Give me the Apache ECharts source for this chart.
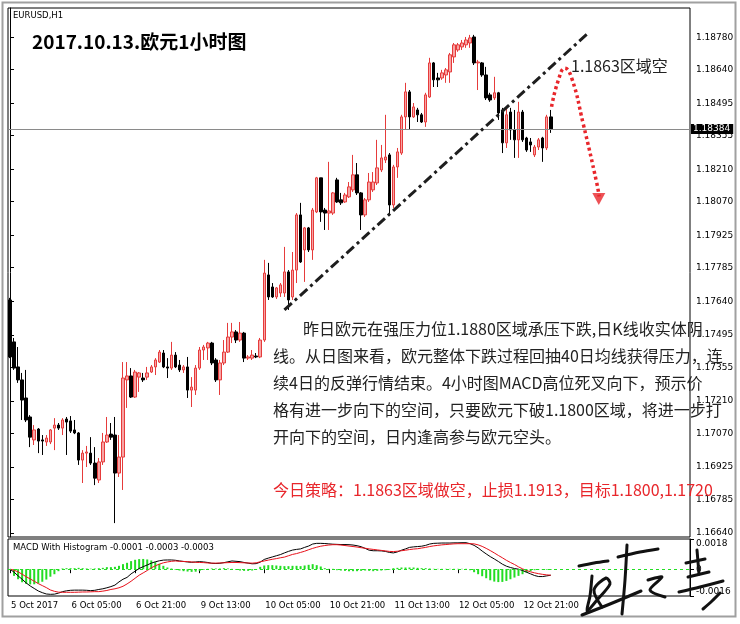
<!DOCTYPE html>
<html><head><meta charset="utf-8">
<script src="https://cdn.jsdelivr.net/npm/echarts@6/dist/echarts.min.js"></script>
<style>html,body{margin:0;padding:0;background:#fff}#c{width:740px;height:624px}</style>
</head><body><div id="c"></div>
<script>
// ---------- DATA ----------
const openP = [
1.17646,1.17465,1.17357,1.17301,1.17223,1.17141,1.17042,1.17089,1.17042,1.17033,
1.17033,1.17093,1.17106,1.17093,1.17132,1.17124,1.17085,1.17072,1.16955,1.16985,
1.16985,1.16942,1.16869,1.16947,1.17033,1.17067,1.17063,1.16899,1.16968,1.17301,
1.17318,1.17227,1.17313,1.17309,1.17313,1.17335,1.17357,1.17378,1.17417,1.17357,
1.17352,1.17408,1.17365,1.17344,1.17357,1.17257,1.17257,1.17352,1.17430,1.17439,
1.17460,1.17387,1.17301,1.17374,1.17421,1.17486,1.17508,1.17473,1.17503,1.17395,
1.17395,1.17404,1.17400,1.17473,1.17754,1.17702,1.17659,1.17676,1.17676,1.17767,
1.17659,1.17775,1.18013,1.17862,1.17957,1.17862,1.18026,1.18173,1.18034,1.18021,
1.18021,1.18164,1.18078,1.18069,1.18091,1.18121,1.18186,1.18108,1.18013,1.18078,
1.18121,1.18151,1.18207,1.18250,1.18272,1.18056,1.18220,1.18280,1.18436,1.18544,
1.18436,1.18466,1.18445,1.18414,1.18522,1.18669,1.18604,1.18604,1.18617,1.18630,
1.18695,1.18725,1.18738,1.18747,1.18755,1.18781,1.18669,1.18669,1.18617,1.18531,
1.18518,1.18540,1.18466,1.18324,1.18457,1.18380,1.18337,1.18457,1.18345,1.18328,
1.18272,1.18306,1.18345,1.18302,1.18436];
const closeP = [
1.17400,1.17352,1.17301,1.17214,1.17128,1.17054,1.17085,1.17037,1.17037,1.17050,
1.17085,1.17106,1.17093,1.17128,1.17119,1.17080,1.17072,1.16955,1.16985,1.16990,
1.16942,1.16877,1.16947,1.17033,1.17063,1.17054,1.16899,1.16968,1.17309,1.17318,
1.17227,1.17335,1.17331,1.17301,1.17331,1.17357,1.17387,1.17421,1.17357,1.17352,
1.17408,1.17357,1.17344,1.17357,1.17257,1.17270,1.17352,1.17430,1.17443,1.17460,
1.17374,1.17301,1.17374,1.17421,1.17486,1.17508,1.17473,1.17503,1.17395,1.17400,
1.17408,1.17400,1.17473,1.17762,1.17659,1.17659,1.17698,1.17711,1.17767,1.17646,
1.17775,1.18013,1.17810,1.17957,1.17862,1.18034,1.18173,1.18026,1.18021,1.18030,
1.18108,1.18069,1.18065,1.18099,1.18134,1.18186,1.18108,1.18013,1.18078,1.18155,
1.18155,1.18216,1.18259,1.18263,1.18056,1.18220,1.18285,1.18436,1.18544,1.18436,
1.18479,1.18445,1.18414,1.18531,1.18669,1.18596,1.18596,1.18626,1.18639,1.18704,
1.18747,1.18747,1.18755,1.18768,1.18777,1.18669,1.18673,1.18617,1.18518,1.18509,
1.18540,1.18453,1.18324,1.18445,1.18380,1.18337,1.18457,1.18337,1.18293,1.18315,
1.18306,1.18337,1.18302,1.18436,1.18384];
const lowP = [
1.17395,1.17344,1.17288,1.17128,1.17119,1.17011,1.17020,1.16985,1.16977,1.17016,
1.17024,1.16998,1.17085,1.17063,1.16977,1.17072,1.17067,1.16934,1.16856,1.16925,
1.16934,1.16847,1.16856,1.16934,1.17029,1.17042,1.16683,1.16882,1.16826,1.17180,
1.17223,1.17223,1.17249,1.17292,1.17301,1.17331,1.17322,1.17374,1.17352,1.17309,
1.17344,1.17352,1.17335,1.17331,1.17223,1.17184,1.17236,1.17344,1.17387,1.17387,
1.17365,1.17292,1.17236,1.17365,1.17417,1.17460,1.17460,1.17465,1.17378,1.17387,
1.17387,1.17395,1.17395,1.17465,1.17646,1.17655,1.17650,1.17659,1.17659,1.17603,
1.17646,1.17719,1.17806,1.17724,1.17853,1.17819,1.18021,1.17983,1.17948,1.17948,
1.18013,1.18065,1.18056,1.18065,1.18086,1.18112,1.18099,1.17948,1.18004,1.18069,
1.18112,1.18142,1.18198,1.18237,1.18013,1.18043,1.18173,1.18272,1.18380,1.18380,
1.18432,1.18414,1.18410,1.18393,1.18518,1.18565,1.18565,1.18596,1.18583,1.18583,
1.18669,1.18717,1.18725,1.18734,1.18734,1.18660,1.18552,1.18609,1.18509,1.18501,
1.18509,1.18423,1.18280,1.18302,1.18337,1.18259,1.18259,1.18328,1.18285,1.18285,
1.18263,1.18293,1.18242,1.18293,1.18367];
const highP = [
1.17655,1.17482,1.17443,1.17331,1.17344,1.17149,1.17106,1.17093,1.17063,1.17063,
1.17089,1.17136,1.17115,1.17136,1.17141,1.17145,1.17128,1.17076,1.16998,1.17016,
1.17054,1.17011,1.16964,1.17072,1.17141,1.17115,1.17141,1.17063,1.17378,1.17378,
1.17352,1.17344,1.17335,1.17331,1.17357,1.17365,1.17395,1.17430,1.17430,1.17395,
1.17465,1.17421,1.17387,1.17365,1.17400,1.17313,1.17365,1.17443,1.17452,1.17465,
1.17465,1.17395,1.17387,1.17473,1.17547,1.17547,1.17516,1.17551,1.17508,1.17408,
1.17430,1.17417,1.17482,1.17819,1.17806,1.17719,1.17702,1.17719,1.17875,1.17775,
1.17853,1.18021,1.18065,1.17961,1.17961,1.18043,1.18177,1.18173,1.18043,1.18242,
1.18112,1.18173,1.18108,1.18108,1.18155,1.18272,1.18237,1.18112,1.18086,1.18194,
1.18198,1.18337,1.18315,1.18445,1.18280,1.18229,1.18302,1.18445,1.18583,1.18552,
1.18496,1.18475,1.18453,1.18540,1.18691,1.18673,1.18626,1.18639,1.18647,1.18712,
1.18755,1.18755,1.18768,1.18781,1.18790,1.18790,1.18682,1.18673,1.18652,1.18540,
1.18609,1.18544,1.18475,1.18479,1.18475,1.18466,1.18501,1.18466,1.18350,1.18345,
1.18315,1.18345,1.18350,1.18445,1.18466];

const macdMain = [
0,-0.00018,-0.00040,-0.00060,-0.00082,-0.00100,-0.00115,-0.00130,-0.00140,-0.00148,
-0.00150,-0.00149,-0.00143,-0.00134,-0.00129,-0.00126,-0.00125,-0.00125,-0.00125,-0.00126,
-0.00128,-0.00126,-0.00121,-0.00117,-0.00111,-0.00104,-0.00095,-0.00076,-0.00060,-0.00049,
-0.00028,-0.00012,0.00004,0.00015,0.00025,0.00036,0.00044,0.00050,0.00054,0.00055,
0.00055,0.00053,0.00049,0.00046,0.00043,0.00041,0.00043,0.00045,0.00043,0.00040,
0.00035,0.00034,0.00035,0.00039,0.00044,0.00049,0.00047,0.00045,0.00040,0.00036,
0.00032,0.00033,0.00042,0.00058,0.00066,0.00073,0.00080,0.00087,0.00097,0.00106,
0.00114,0.00118,0.00121,0.00130,0.00138,0.00150,0.00154,0.00154,0.00153,0.00151,
0.00149,0.00148,0.00147,0.00147,0.00146,0.00144,0.00140,0.00134,0.00124,0.00113,
0.00110,0.00110,0.00109,0.00106,0.00100,0.00097,0.00103,0.00113,0.00121,0.00130,
0.00133,0.00135,0.00137,0.00142,0.00150,0.00154,0.00155,0.00156,0.00156,0.00156,
0.00157,0.00157,0.00158,0.00158,0.00152,0.00142,0.00127,0.00108,0.00091,0.00075,
0.00061,0.00046,0.00030,0.00018,0.00010,0.00004,0.00000,-0.00008,-0.00018,-0.00028,
-0.00038,-0.00044,-0.00044,-0.00040,-0.00036];
const macdSignal = [
0,-0.00006,-0.00016,-0.00030,-0.00045,-0.00058,-0.00072,-0.00086,-0.00098,-0.00110,
-0.00124,-0.00132,-0.00137,-0.00138,-0.00138,-0.00138,-0.00138,-0.00137,-0.00136,-0.00136,
-0.00135,-0.00134,-0.00134,-0.00131,-0.00127,-0.00121,-0.00117,-0.00111,-0.00102,-0.00088,
-0.00072,-0.00054,-0.00036,-0.00022,-0.00008,0.00008,0.00020,0.00030,0.00038,0.00043,
0.00047,0.00049,0.00047,0.00046,0.00045,0.00043,0.00041,0.00040,0.00039,0.00037,
0.00036,0.00036,0.00037,0.00038,0.00039,0.00040,0.00040,0.00039,0.00038,0.00037,
0.00036,0.00038,0.00044,0.00049,0.00054,0.00059,0.00063,0.00068,0.00072,0.00080,
0.00088,0.00093,0.00100,0.00107,0.00116,0.00124,0.00131,0.00137,0.00141,0.00144,
0.00146,0.00146,0.00144,0.00141,0.00138,0.00135,0.00132,0.00128,0.00125,0.00121,
0.00118,0.00115,0.00112,0.00109,0.00106,0.00105,0.00107,0.00110,0.00113,0.00117,
0.00120,0.00122,0.00126,0.00130,0.00135,0.00139,0.00142,0.00145,0.00147,0.00149,
0.00151,0.00152,0.00152,0.00152,0.00152,0.00151,0.00145,0.00136,0.00124,0.00111,
0.00097,0.00082,0.00068,0.00053,0.00040,0.00028,0.00014,0.00002,-0.00008,-0.00016,
-0.00022,-0.00027,-0.00031,-0.00034,-0.00036];
const macdHist = [
0,-0.00040,-0.00060,-0.00078,-0.00088,-0.00091,-0.00090,-0.00085,-0.00075,-0.00062,
-0.00045,-0.00030,-0.00012,0.00004,0.00006,0.00006,0.00006,0.00008,0.00006,0.00004,
0.00003,0.00004,0.00006,0.00008,0.00012,0.00012,0.00014,0.00020,0.00030,0.00038,
0.00048,0.00056,0.00060,0.00061,0.00058,0.00052,0.00042,0.00032,0.00020,0.00010,
0.00004,-0.00004,-0.00008,-0.00012,-0.00014,-0.00016,-0.00015,-0.00010,-0.00004,0.00002,
0.00004,0.00004,0.00004,0.00006,0.00004,0.00002,-0.00004,-0.00008,-0.00010,-0.00010,
-0.00008,-0.00004,0.00014,0.00022,0.00024,0.00024,0.00022,0.00020,0.00018,0.00018,
0.00020,0.00020,0.00018,0.00022,0.00026,0.00030,0.00024,0.00016,0.00006,0.00002,
0.00002,-0.00006,-0.00008,-0.00010,-0.00012,-0.00012,-0.00012,-0.00010,-0.00008,-0.00010,
-0.00012,-0.00010,-0.00008,-0.00006,-0.00004,0.00006,0.00008,0.00010,0.00010,0.00010,
0.00010,0.00008,0.00006,0.00006,0.00004,0.00002,0.00002,0.00002,0.00002,0.00002,
0.00002,0.00002,0.00002,0.00002,-0.00006,-0.00018,-0.00030,-0.00042,-0.00054,-0.00066,
-0.00074,-0.00077,-0.00076,-0.00070,-0.00060,-0.00050,-0.00040,-0.00030,-0.00020,-0.00012,
-0.00006,-0.00002,-0.00004,-0.00004,-0.00004];

const priceTicks = [1.18780,1.18640,1.18495,1.18355,1.18210,1.18070,1.17925,1.17785,
                    1.17640,1.17495,1.17355,1.17210,1.17070,1.16925,1.16785,1.16640];
const macdTicks = [-0.0016, 0, 0.0018];
const xTickIndex  = [0,15,31,47,63,79,95,111,127];
const xTickLabels = ['5 Oct 2017','6 Oct 05:00','6 Oct 21:00','9 Oct 13:00','10 Oct 05:00',
                     '10 Oct 21:00','11 Oct 13:00','12 Oct 05:00','12 Oct 21:00'];
const currentPrice = 1.18384;

// annotations (bar index, price)
const trendLine  = [[68, 1.17603], [143, 1.18794]];
const arrowPath  = [[134.2, 1.18480], [135.9, 1.18596], [137.5, 1.18646], [139.2, 1.18603],
                    [142.0, 1.18409], [145.4, 1.18150], [146.0, 1.18092]];
const arrowHead  = [[145.9, 1.18082]];

const N_SLOTS = 169;
const cats = [];
for (let i = 0; i < N_SLOTS; i++) cats.push(String(i));
const candleData = openP.map((o, i) => [o, closeP[i], lowP[i], highP[i]]);

const FONT = 'DejaVu Sans';
const CJK = '"Noto Sans CJK SC"';
const isTick = (i) => xTickIndex.indexOf(i) >= 0;

const paraLines = [
  {x: 303, y: 329, t: '昨日欧元在强压力位1.1880区域承压下跌,日K线收实体阴'},
  {x: 273, y: 356, t: '线。从日图来看，欧元整体下跌过程回抽40日均线获得压力，连'},
  {x: 273, y: 383, t: '续4日的反弹行情结束。4小时图MACD高位死叉向下，预示价'},
  {x: 273, y: 410, t: '格有进一步向下的空间，只要欧元下破1.1800区域，将进一步打'},
  {x: 273, y: 437, t: '开向下的空间，日内逢高参与欧元空头。'}
];

const sig = [
  [[579,566],[594,563],[608,561]],
  [[618,557],[640,552],[658,549]],
  [[627,545],[625,580],[622,614]],
  [[592,576],[590,596],[587,611],[597,600],[610,584],[606,578],[594,590],[602,607]],
  [[582,615],[610,604],[641,591]],
  [[648,580],[662,577],[650,590],[665,597]],
  [[686,563],[705,559]],
  [[697,550],[699,574]],
  [[688,577],[709,572]],
  [[679,592],[700,587],[723,581]],
  [[703,609],[712,601],[720,593]]
];

const graphics = [
  {type:'rect', shape:{x:2.5, y:2.5, width:733, height:614}, style:{fill:'none', stroke:'#a0a0a0', lineWidth:2}, z:50},
  {type:'text', x:13, y:16, style:{text:'EURUSD,H1', fontSize:8.5, fontFamily:FONT, fill:'#000', verticalAlign:'middle'}, z:50},
  {type:'text', x:32, y:42, style:{text:'2017.10.13.欧元1小时图', fontSize:19, fontWeight:'bold', fontFamily:CJK, fill:'#000', verticalAlign:'middle'}, z:50},
  {type:'text', x:571, y:66, style:{text:'1.1863区域空', fontSize:16, fontFamily:CJK, fill:'#222', verticalAlign:'middle'}, z:50},
  {type:'text', x:13, y:548, style:{text:'MACD With Histogram -0.0001 -0.0003 -0.0003', fontSize:8.5, fontFamily:FONT, fill:'#000', verticalAlign:'middle'}, z:50},
  {type:'text', x:273, y:490, style:{text:'今日策略：1.1863区域做空，止损1.1913，目标1.1800,1.1720', fontSize:16, fontFamily:CJK, fill:'#e8262b', verticalAlign:'middle'}, z:50}
];
paraLines.forEach(l => graphics.push({type:'text', x:l.x, y:l.y, style:{text:l.t, fontSize:16, fontFamily:CJK, fill:'#222', verticalAlign:'middle'}, z:50}));
sig.forEach(p => graphics.push({type:'polyline', shape:{points:p, smooth:0.3}, style:{stroke:'#111', lineWidth:3, fill:'none', lineCap:'round', lineJoin:'round'}, z:60}));

const chart = echarts.init(document.getElementById('c'), null, {width:740, height:624});
chart.setOption({
  animation: false,
  backgroundColor: '#fff',
  textStyle: {fontFamily: FONT},
  grid: [
    {left:8, top:8, width:682, height:529, show:true, borderColor:'#000', borderWidth:1, backgroundColor:'#fff'},
    {left:8, top:539, width:682, height:57, show:true, borderColor:'#000', borderWidth:1, backgroundColor:'#fff'}
  ],
  xAxis: [
    {gridIndex:0, type:'category', data:cats, boundaryGap:true, axisLine:{show:false}, axisTick:{show:false}, axisLabel:{show:false}, splitLine:{show:false}},
    {gridIndex:1, type:'category', data:cats, boundaryGap:true, axisLine:{show:false},
     axisTick:{show:true, alignWithLabel:true, length:4, interval:(i)=>isTick(i), lineStyle:{color:'#000'}},
     axisLabel:{interval:(i)=>isTick(i), formatter:(v,i)=>xTickLabels[xTickIndex.indexOf(i)] || '', align:'left', margin:5, fontSize:8.5, fontFamily:FONT, color:'#000', padding:[0,0,0,1]},
     splitLine:{show:false}},
    {gridIndex:0, type:'value', min:-0.5, max:N_SLOTS-0.5, show:false}
  ],
  yAxis: [
    {gridIndex:0, type:'value', position:'right', min:1.16623, max:1.18906, splitLine:{show:false},
     axisLine:{show:true, lineStyle:{color:'#000'}},
     axisTick:{show:true, length:4, customValues:priceTicks, lineStyle:{color:'#000'}},
     axisLabel:{customValues:priceTicks, formatter:(v)=>v.toFixed(5), margin:6, fontSize:9, fontFamily:FONT, color:'#000'}},
    {gridIndex:1, type:'value', position:'right', min:-0.0016, max:0.0018, splitLine:{show:false},
     axisLine:{show:true, lineStyle:{color:'#000'}},
     axisTick:{show:true, length:4, customValues:macdTicks, lineStyle:{color:'#000'}},
     axisLabel:{customValues:macdTicks, formatter:(v)=> Math.abs(v) < 1e-9 ? '0' : v.toFixed(4), margin:6, fontSize:9, fontFamily:FONT, color:'#000',
                verticalAlignMaxLabel:'top', verticalAlignMinLabel:'bottom'}}
  ],
  graphic: graphics,
  series: [
    {type:'candlestick', xAxisIndex:0, yAxisIndex:0, data:candleData, barWidth:3,
     itemStyle:{color:'#f7a4a4', borderColor:'#e63b3b', color0:'#000', borderColor0:'#000', borderWidth:1}},
    {type:'line', xAxisIndex:2, yAxisIndex:0, data:trendLine, symbol:'none', z:5,
     lineStyle:{color:'#1e1e1e', width:3, type:[10,4,3,4], cap:'butt'},
     markLine:{silent:true, precision:5, symbol:['none','none'], data:[{yAxis:currentPrice}],
       lineStyle:{color:'#8a8a8a', width:1, type:'solid'},
       label:{show:true, position:'end', distance:1, formatter:currentPrice.toFixed(5), color:'#fff', backgroundColor:'#000', padding:[1,3,0,2], fontSize:9, fontFamily:FONT}}},
    {type:'line', xAxisIndex:2, yAxisIndex:0, data:arrowPath, symbol:'none', smooth:0.5, z:5,
     lineStyle:{color:'#e8262b', width:3.5, type:[3,3], cap:'butt'}},
    {type:'scatter', xAxisIndex:2, yAxisIndex:0, data:arrowHead, symbol:'triangle', symbolRotate:180, symbolSize:[13,12], z:5,
     itemStyle:{color:'#e8262b'}},
    {type:'bar', xAxisIndex:1, yAxisIndex:1, data:macdHist, barWidth:2, itemStyle:{color:'#22dd22'},
     markLine:{silent:true, precision:6, symbol:['none','none'], data:[{yAxis:0}], label:{show:false},
       lineStyle:{color:'#22dd22', width:1, type:[3,3]}}},
    {type:'line', xAxisIndex:1, yAxisIndex:1, data:macdMain, symbol:'none', lineStyle:{color:'#000', width:1}},
    {type:'line', xAxisIndex:1, yAxisIndex:1, data:macdSignal, symbol:'none', lineStyle:{color:'#e8101a', width:1}}
  ]
});
</script></body></html>
